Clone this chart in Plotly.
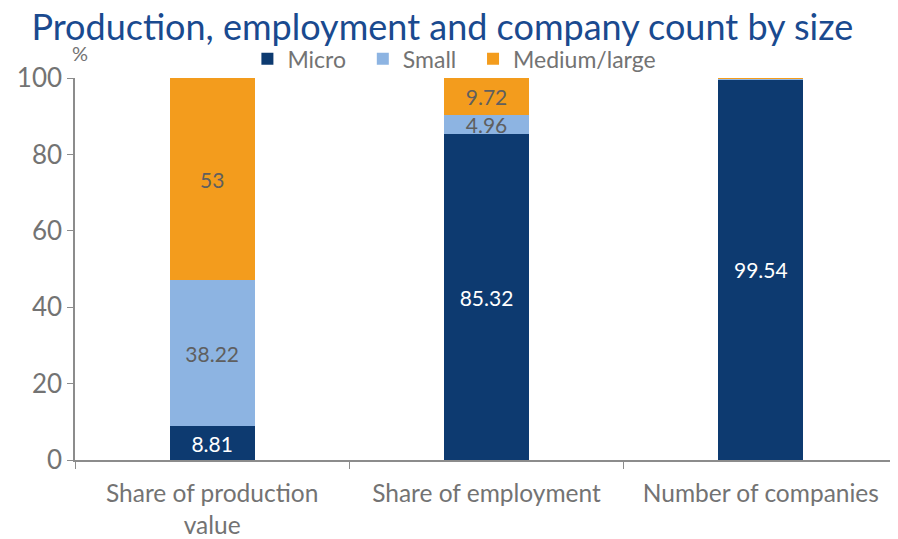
import plotly.graph_objects as go

categories = ["Share of production<br>value", "Share of employment", "Number of companies"]
micro = [8.81, 85.32, 99.54]
small = [38.22, 4.96, 0.36]
medium = [53, 9.72, 0.10]
micro_labels = ["8.81", "85.32", "99.54"]
small_labels = ["38.22", "4.96", ""]
medium_labels = ["53", "9.72", ""]
series_names = ["Micro", "Small", "Medium/large"]

FONT = "Lato"
LABEL_GRAY = "#5f5f5f"
fig = go.Figure()
fig.add_trace(go.Bar(name=series_names[0] + "  ", x=categories, y=micro, marker_color="#0d3a70",
                     text=micro_labels, textposition="inside", insidetextanchor="middle",
                     textfont=dict(color="white", size=21, family=FONT)))
fig.add_trace(go.Bar(name=series_names[1] + "  ", x=categories, y=small, marker_color="#8db4e2",
                     text=small_labels, textposition="inside", insidetextanchor="middle",
                     textfont=dict(color=LABEL_GRAY, size=21, family=FONT)))
fig.add_trace(go.Bar(name=series_names[2], x=categories, y=medium, marker_color="#f39c1d",
                     text=medium_labels, textposition="inside", insidetextanchor="middle",
                     textfont=dict(color=LABEL_GRAY, size=21, family=FONT)))

fig.update_traces(marker_line_width=0, constraintext="none")

fig.update_layout(
    barmode="stack",
    bargap=0.69,
    width=890, height=531,
    plot_bgcolor="white", paper_bgcolor="white",
    margin=dict(l=67, r=0, t=70, b=79, autoexpand=False),
    font=dict(family=FONT, color="#737373", size=20),
    title=dict(text="Production, employment and company count by size", x=0.488, xanchor="center",
               y=0.988, yanchor="top",
               font=dict(family=FONT, size=36, color="#1a4a8f")),
    legend=dict(orientation="h", x=0.461, xanchor="center", y=1.05, yanchor="middle",
                font=dict(size=23, color="#737373"), traceorder="normal",
                bgcolor="rgba(0,0,0,0)"),
    xaxis=dict(showline=True, linecolor="#8c8c8c", linewidth=1.5, ticks="outside",
               tickson="boundaries", ticklen=7, tickcolor="#8c8c8c", ticklabelstandoff=11,
               tickfont=dict(size=24.5, color="#737373")),
    yaxis=dict(range=[0, 100.03], tickvals=[0, 20, 40, 60, 80, 100], showgrid=False,
               showline=True, linecolor="#8c8c8c",
               linewidth=1.5, ticks="outside", ticklen=6, tickcolor="#8c8c8c",
               tickfont=dict(size=26, color="#737373"), zeroline=False),
    annotations=[dict(text="%", xref="paper", yref="paper", x=0.006, y=1.065, xanchor="center",
                      yanchor="middle", showarrow=False, font=dict(size=20, color="#737373"))],
)

fig.write_html("out.html")
